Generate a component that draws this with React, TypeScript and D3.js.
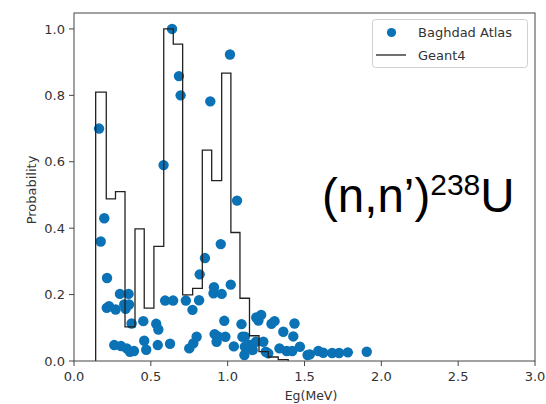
import React from "react";
import * as d3 from "d3";

// Histogram (Geant4) bin edges and probabilities
const binEdges = [0.141, 0.21, 0.27, 0.332, 0.397, 0.457, 0.52, 0.584, 0.646, 0.707, 0.772, 0.835, 0.896, 0.961, 1.021, 1.08, 1.142, 1.204, 1.264, 1.329, 1.394];
const binValues = [0.81, 0.488, 0.51, 0.103, 0.398, 0.159, 0.345, 1.0, 0.954, 0.199, 0.219, 0.635, 0.543, 0.867, 0.387, 0.189, 0.076, 0.028, 0.012, 0.004];

// Baghdad Atlas points
const atlasE = [0.163, 0.174, 0.197, 0.215, 0.213, 0.228, 0.271, 0.262, 0.299, 0.306, 0.327, 0.336, 0.343, 0.355, 0.358, 0.364, 0.375, 0.39, 0.451, 0.457, 0.47, 0.535, 0.549, 0.545, 0.583, 0.593, 0.638, 0.645, 0.625, 0.683, 0.694, 0.728, 0.75, 0.771, 0.776, 0.798, 0.814, 0.818, 0.852, 0.887, 0.908, 0.911, 0.915, 0.928, 0.937, 0.955, 0.961, 0.978, 0.985, 1.015, 1.02, 1.04, 1.061, 1.09, 1.096, 1.112, 1.112, 1.109, 1.145, 1.163, 1.184, 1.186, 1.2, 1.218, 1.232, 1.248, 1.264, 1.285, 1.305, 1.337, 1.362, 1.384, 1.42, 1.427, 1.435, 1.47, 1.52, 1.535, 1.59, 1.622, 1.68, 1.725, 1.782, 1.905];
const atlasP = [0.70, 0.36, 0.43, 0.25, 0.16, 0.165, 0.155, 0.048, 0.202, 0.045, 0.17, 0.157, 0.038, 0.202, 0.17, 0.028, 0.113, 0.03, 0.12, 0.061, 0.034, 0.112, 0.095, 0.048, 0.59, 0.182, 1.0, 0.182, 0.052, 0.858, 0.80, 0.182, 0.038, 0.154, 0.053, 0.073, 0.183, 0.261, 0.31, 0.782, 0.204, 0.222, 0.081, 0.058, 0.074, 0.352, 0.202, 0.121, 0.073, 0.923, 0.23, 0.044, 0.483, 0.111, 0.073, 0.073, 0.043, 0.018, 0.048, 0.033, 0.058, 0.131, 0.122, 0.139, 0.058, 0.028, 0.023, 0.112, 0.12, 0.038, 0.088, 0.03, 0.03, 0.074, 0.113, 0.043, 0.018, 0.02, 0.03, 0.025, 0.024, 0.024, 0.026, 0.028];

const xTicks = [0, 0.5, 1.0, 1.5, 2.0, 2.5, 3.0];
const yTicks = [0, 0.2, 0.4, 0.6, 0.8, 1.0];

const W = 546;
const H = 404;
const L = 74, R = 535, T = 13, B = 361;

export default function App() {
  const x = d3.scaleLinear().domain([0, 3]).range([L, R]);
  const y = d3.scaleLinear().domain([0, 1.048]).range([B, T]);

  const stepPts: [number, number][] = [[binEdges[0], 0]];
  binValues.forEach((v, i) => stepPts.push([binEdges[i], v]));
  stepPts.push([binEdges[binEdges.length - 1], 0]);
  const stepPath = d3
    .line<[number, number]>()
    .x((d) => x(d[0]))
    .y((d) => y(d[1]))
    .curve(d3.curveStepAfter)(stepPts) as string;

  const blue = "#0a72b5";
  const txt = "#333";
  const font = "DejaVu Sans, sans-serif";

  return (
    <svg width={W} height={H} style={{ position: "absolute", left: 0, top: 0, background: "#fff" }} fontFamily={font}>
      <rect width={W} height={H} fill="#fff" />
      {/* points */}
      {atlasE.map((e, i) => (
        <circle key={i} cx={x(e)} cy={y(atlasP[i])} r={5.2} fill={blue} />
      ))}
      {/* step histogram */}
      <path d={stepPath} fill="none" stroke="#222" strokeWidth={1.3} />
      {/* frame */}
      <rect x={L} y={T} width={R - L} height={B - T} fill="none" stroke="#444" strokeWidth={1} />
      {/* x ticks */}
      {xTicks.map((t) => (
        <g key={"x" + t}>
          <line x1={x(t)} x2={x(t)} y1={B} y2={B + 5} stroke="#444" />
          <text x={x(t)} y={B + 20} fontSize={13} textAnchor="middle" fill={txt}>
            {t.toFixed(1)}
          </text>
        </g>
      ))}
      {/* y ticks */}
      {yTicks.map((t) => (
        <g key={"y" + t}>
          <line x1={L - 5} x2={L} y1={y(t)} y2={y(t)} stroke="#444" />
          <text x={L - 9} y={y(t) + 4.7} fontSize={13} textAnchor="end" fill={txt}>
            {t.toFixed(1)}
          </text>
        </g>
      ))}
      <text x={311} y={399.5} fontSize={12.5} textAnchor="middle" fill={txt}>
        Eg(MeV)
      </text>
      <text transform={`translate(36,${(T + B) / 2 + 3}) rotate(-90)`} fontSize={13} textAnchor="middle" fill={txt}>
        Probability
      </text>
      {/* legend */}
      <rect x={372.5} y={19.5} width={155} height={48} rx={3} fill="#fff" stroke="#d0d0d0" />
      <circle cx={391.5} cy={32.5} r={4.6} fill={blue} />
      <line x1={376} x2={406} y1={55} y2={55} stroke="#222" strokeWidth={1.3} />
      <text x={418} y={37} fontSize={13} fill={txt}>Baghdad Atlas</text>
      <text x={418} y={60} fontSize={13} fill={txt}>Geant4</text>
      {/* annotation */}
      <text x={322} y={212} fontSize={47.5} fontFamily="Liberation Sans, Arial, sans-serif" fill="#000">
        (n,n’)
        <tspan fontSize={30} dy={-17}>238</tspan>
        <tspan fontSize={47.5} dy={17}>U</tspan>
      </text>
    </svg>
  );
}
